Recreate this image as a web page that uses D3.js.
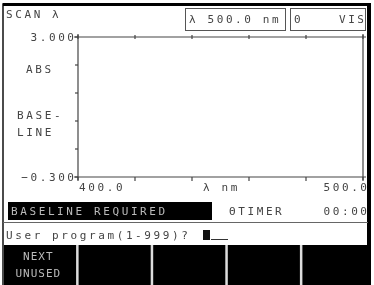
<!DOCTYPE html>
<html lang="en">
<head>
    <meta charset="UTF-8">
    <title>Scan screen</title>
    <script src="https://cdn.jsdelivr.net/npm/d3@7"></script>
    <style>
        body { margin: 0; background: #fff; }
        text { font-family: "DejaVu Sans Mono", monospace; font-size: 11px; letter-spacing: 2.6px; fill: #444; filter: url(#soft); }
    </style>
</head>
<body>
<svg id="main" width="374" height="285">
    <defs><filter id="soft"><feGaussianBlur stdDeviation="0.35"/></filter></defs>
</svg>
<script>
    // values
    const xDomain = [400, 500];
    const yDomain = [-0.3, 3.0];
    const xTicks = [400, 420, 440, 460, 480, 500];
    const yTicks = [-0.3, 0.36, 1.02, 1.68, 2.34, 3.0];
    const yLabels = ['ABS', 'BASE-', 'LINE'];
    const softKeys = [['NEXT', 'UNUSED'], [], [], [], []];

    let svg = d3.select('svg#main');
    let plot = {left: 78, right: 363, top: 37, bottom: 177};
    let ls = 2.6; // trailing letter-spacing to undo on right-anchored text

    let x = d3.scaleLinear().domain(xDomain).range([plot.left, plot.right]);
    let y = d3.scaleLinear().domain(yDomain).range([plot.bottom, plot.top]);

    // outer frame
    svg.append('rect').attr('x', 3).attr('y', 4).attr('width', 366).attr('height', 290)
        .attr('fill', 'none').attr('stroke', '#111').attr('stroke-width', 1.5);
    svg.append('rect').attr('x', 3).attr('y', 3).attr('width', 368).attr('height', 3).attr('fill', '#000');
    svg.append('rect').attr('x', 367).attr('y', 3).attr('width', 4).attr('height', 282).attr('fill', '#000');

    // header
    svg.append('text').attr('x', 6).attr('y', 18).text('SCAN λ');
    svg.append('rect').attr('x', 185.5).attr('y', 8.5).attr('width', 100).attr('height', 22)
        .attr('fill', 'none').attr('stroke', '#555').attr('stroke-width', 1);
    svg.append('rect').attr('x', 290.5).attr('y', 8.5).attr('width', 75).attr('height', 22)
        .attr('fill', 'none').attr('stroke', '#555').attr('stroke-width', 1);
    svg.append('text').attr('x', 189).attr('y', 23).text('λ 500.0 nm');
    svg.append('text').attr('x', 294).attr('y', 23).text('0');
    svg.append('text').attr('x', 364 + ls).attr('y', 23).attr('text-anchor', 'end').text('VIS');

    // axes
    let axisG = svg.append('g').attr('stroke', '#444').attr('stroke-width', 1.2);
    axisG.append('line').attr('x1', plot.left - 4).attr('x2', plot.right + 3)
        .attr('y1', y(yDomain[1])).attr('y2', y(yDomain[1]));
    axisG.append('line').attr('x1', plot.left - 4).attr('x2', plot.right + 3)
        .attr('y1', y(yDomain[0])).attr('y2', y(yDomain[0]));
    axisG.append('line').attr('x1', x(xDomain[0])).attr('x2', x(xDomain[0]))
        .attr('y1', plot.top - 3).attr('y2', plot.bottom + 3);
    axisG.append('line').attr('x1', x(xDomain[1])).attr('x2', x(xDomain[1]))
        .attr('y1', plot.top - 3).attr('y2', plot.bottom + 3);

    axisG.selectAll('.yt').data(yTicks).enter().append('line')
        .attr('x1', plot.left - 3).attr('x2', plot.left)
        .attr('y1', d => y(d)).attr('y2', d => y(d));
    axisG.selectAll('.xtTop').data(xTicks).enter().append('line')
        .attr('x1', d => x(d)).attr('x2', d => x(d))
        .attr('y1', plot.top - 2).attr('y2', plot.top + 2);
    axisG.selectAll('.xtBot').data(xTicks).enter().append('line')
        .attr('x1', d => x(d)).attr('x2', d => x(d))
        .attr('y1', plot.bottom).attr('y2', plot.bottom + 4);

    // axis labels
    svg.append('text').attr('x', 74 + ls).attr('y', y(yDomain[1]) + 4).attr('text-anchor', 'end')
        .text(d3.format('.3f')(yDomain[1]));
    svg.append('text').attr('x', 74 + ls).attr('y', y(yDomain[0]) + 4).attr('text-anchor', 'end')
        .text(d3.format('.3f')(yDomain[0]));
    svg.selectAll('.ylab').data(yLabels).enter().append('text')
        .attr('x', (d, i) => i === 0 ? 26 : 17)
        .attr('y', (d, i) => [73, 119, 136][i])
        .text(d => d);

    svg.append('text').attr('x', x(xDomain[0]) + 1).attr('y', 191).text(d3.format('.1f')(xDomain[0]));
    svg.append('text').attr('x', 367 + ls).attr('y', 191).attr('text-anchor', 'end').text(d3.format('.1f')(xDomain[1]));
    svg.append('text').attr('x', 203).attr('y', 191).text('λ nm');

    // status line
    svg.append('rect').attr('x', 8).attr('y', 202).attr('width', 204).attr('height', 18).attr('fill', '#000');
    svg.append('text').attr('x', 11).attr('y', 215).style('fill', '#bbb').text('BASELINE REQUIRED');
    svg.append('text').attr('x', 229).attr('y', 215).text('ΘTIMER');
    svg.append('text').attr('x', 367 + ls).attr('y', 215).attr('text-anchor', 'end').text('00:00');
    svg.append('line').attr('x1', 3).attr('x2', 368).attr('y1', 222.5).attr('y2', 222.5)
        .attr('stroke', '#666').attr('stroke-width', 1);

    // prompt
    svg.append('text').attr('x', 6).attr('y', 239).text('User program(1-999)?');
    svg.append('rect').attr('x', 203).attr('y', 230).attr('width', 7).attr('height', 10).attr('fill', '#111');
    svg.append('line').attr('x1', 211).attr('x2', 228).attr('y1', 239.5).attr('y2', 239.5)
        .attr('stroke', '#333').attr('stroke-width', 1);

    // soft keys
    let keyX = d3.scaleLinear().domain([0, softKeys.length]).range([4, 377]);
    svg.append('rect').attr('x', 4).attr('y', 245).attr('width', 366).attr('height', 40).attr('fill', '#000');
    svg.selectAll('.kdiv').data(d3.range(1, softKeys.length)).enter().append('rect')
        .attr('x', d => keyX(d) - 2.5).attr('y', 245).attr('width', 2.5).attr('height', 40).attr('fill', '#ddd');
    softKeys.forEach((lines, i) => {
        lines.forEach((t, j) => {
            svg.append('text').attr('x', keyX(i + 0.5) - 3).attr('y', 260 + j * 17)
                .attr('text-anchor', 'middle').style('fill', '#bbb').style('letter-spacing', '1px').text(t);
        });
    });
</script>
</body>
</html>
